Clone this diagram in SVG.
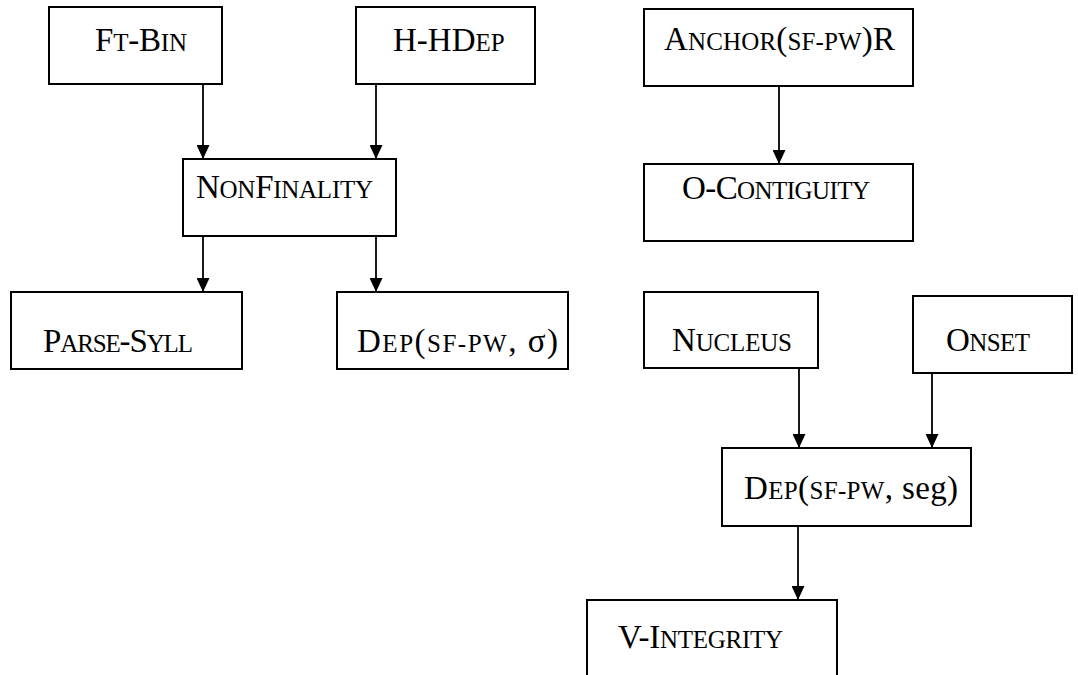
<svg xmlns="http://www.w3.org/2000/svg" width="1078" height="675" viewBox="0 0 1078 675">
<style>
.box{fill:#fff;stroke:#000;stroke-width:2}
.t{font-family:"Liberation Serif","Times New Roman",serif;font-size:33px;fill:#000}
.s{font-size:25px}
.c{stroke:#000;stroke-width:1.8;fill:none;marker-end:url(#ah)}
</style>
<defs>
<marker id="ah" markerUnits="userSpaceOnUse" markerWidth="15" markerHeight="13" refX="14" refY="6.5" orient="auto" viewBox="0 0 15 13">
<path d="M0,0 L14,6.5 L0,13 Z" fill="#000"/>
</marker>
</defs>
<rect width="1078" height="675" fill="#fff"/>
<g id="ftbin"><rect class="box" x="49" y="7" width="173" height="77"/>
<text class="t" x="95" y="51" textLength="92">F<tspan class="s">T</tspan>-B<tspan class="s">IN</tspan></text></g>
<g id="hhdep"><rect class="box" x="356" y="7" width="179" height="77"/>
<text class="t" x="393" y="51">H-HD<tspan class="s">EP</tspan></text></g>
<g id="anchor"><rect class="box" x="644" y="9" width="269" height="77"/>
<text class="t" x="664" y="50" textLength="231">A<tspan class="s">NCHOR</tspan>(<tspan class="s">SF-PW</tspan>)R</text></g>
<g id="nonfinality"><rect class="box" x="183" y="159" width="213" height="77"/>
<text class="t" x="196" y="198" textLength="177">N<tspan class="s">ON</tspan>F<tspan class="s">INALITY</tspan></text></g>
<g id="ocontiguity"><rect class="box" x="644" y="164" width="269" height="77"/>
<text class="t" x="682" y="199" textLength="188">O-C<tspan class="s">ONTIGUITY</tspan></text></g>
<g id="parsesyll"><rect class="box" x="11" y="292" width="231" height="77"/>
<text class="t" x="43" y="352" textLength="150">P<tspan class="s">ARSE</tspan>-S<tspan class="s">YLL</tspan></text></g>
<g id="depsigma"><rect class="box" x="337" y="292" width="231" height="77"/>
<text class="t" x="357" y="352" textLength="201">D<tspan class="s">EP</tspan>(<tspan class="s">SF-PW</tspan>, σ)</text></g>
<g id="nucleus"><rect class="box" x="644" y="292" width="174" height="76"/>
<text class="t" x="672" y="351" textLength="120">N<tspan class="s">UCLEUS</tspan></text></g>
<g id="onset"><rect class="box" x="913" y="296" width="159" height="77"/>
<text class="t" x="946" y="351" textLength="84">O<tspan class="s">NSET</tspan></text></g>
<g id="depseg"><rect class="box" x="722" y="448" width="249" height="78"/>
<text class="t" x="744" y="499" textLength="214">D<tspan class="s">EP</tspan>(<tspan class="s">SF-PW</tspan>, seg)</text></g>
<g id="vintegrity"><rect class="box" x="587" y="600" width="250" height="100"/>
<text class="t" x="618" y="648" textLength="165">V-I<tspan class="s">NTEGRITY</tspan></text></g>
<g id="connectors">
<line class="c" x1="203" y1="84" x2="203" y2="159"/>
<line class="c" x1="376" y1="84" x2="376" y2="159"/>
<line class="c" x1="203" y1="236" x2="203" y2="292"/>
<line class="c" x1="376" y1="236" x2="376" y2="292"/>
<line class="c" x1="779" y1="86" x2="779" y2="164"/>
<line class="c" x1="799" y1="368" x2="799" y2="448"/>
<line class="c" x1="932" y1="373" x2="932" y2="448"/>
<line class="c" x1="798" y1="526" x2="798" y2="600"/>
</g>
</svg>
